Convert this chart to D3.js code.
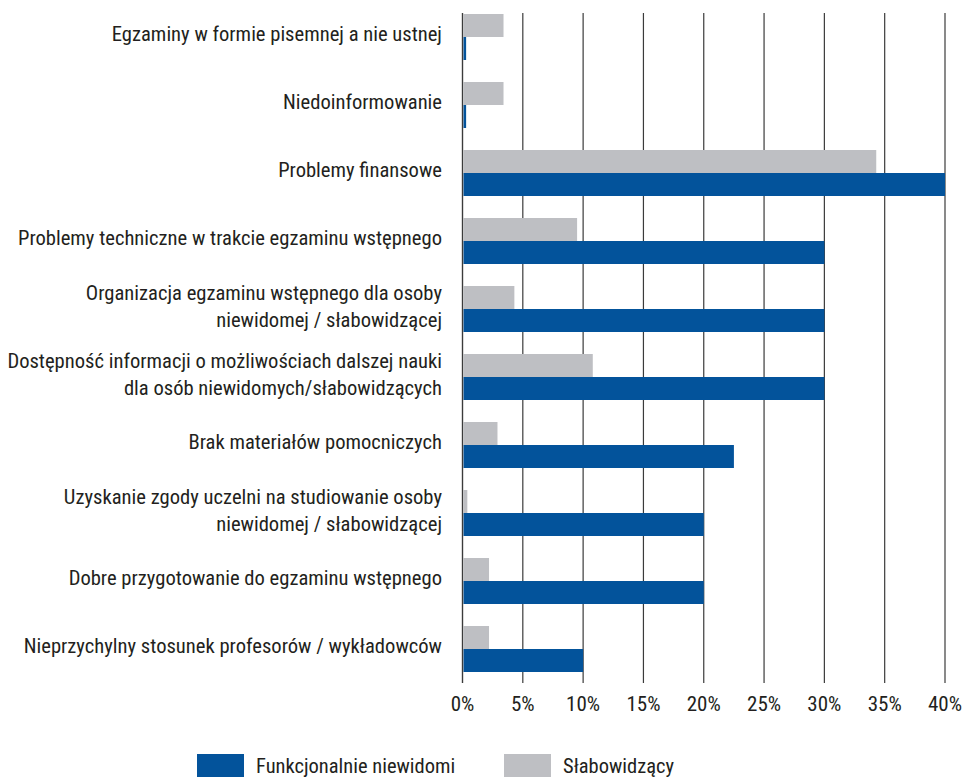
<!DOCTYPE html>
<html><head><meta charset="utf-8">
<script src="https://cdn.jsdelivr.net/npm/d3@7"></script>
<style>
body{margin:0;background:#fff;}
text{font-family:"Liberation Sans Narrow","Roboto Condensed","DejaVu Sans Condensed",sans-serif;fill:#231f20;}
</style></head>
<body>
<svg id="chart" width="969" height="779"></svg>
<script>
const categories = [
  ["Egzaminy w formie pisemnej a nie ustnej"],
  ["Niedoinformowanie"],
  ["Problemy finansowe"],
  ["Problemy techniczne w trakcie egzaminu wstępnego"],
  ["Organizacja egzaminu wstępnego dla osoby", "niewidomej / słabowidzącej"],
  ["Dostępność informacji o możliwościach dalszej nauki", "dla osób niewidomych/słabowidzących"],
  ["Brak materiałów pomocniczych"],
  ["Uzyskanie zgody uczelni na studiowanie osoby", "niewidomej / słabowidzącej"],
  ["Dobre przygotowanie do egzaminu wstępnego"],
  ["Nieprzychylny stosunek profesorów / wykładowców"]
];
const seriesNames = ["Słabowidzący", "Funkcjonalnie niewidomi"];
const slabowidzacy = [3.4, 3.4, 34.3, 9.5, 4.3, 10.8, 2.9, 0.4, 2.2, 2.2];
const niewidomi = [0.3, 0.3, 40, 30, 30, 30, 22.5, 20, 20, 10];
const xTicks = [0, 5, 10, 15, 20, 25, 30, 35, 40];
const legendOrder = ["Funkcjonalnie niewidomi", "Słabowidzący"];

const colors = {"Słabowidzący": "#bebfc3", "Funkcjonalnie niewidomi": "#03539b"};
const svg = d3.select("#chart");
const x = d3.scaleLinear().domain([0, 40]).range([462.5, 945]);
const idx = d3.range(categories.length);
const y = d3.scaleBand().domain(idx).range([3, 683]).paddingInner(22/68).paddingOuter(11/68);
const ySub = d3.scaleBand().domain(seriesNames).range([0, y.bandwidth()]);
const seriesVals = {"Słabowidzący": slabowidzacy, "Funkcjonalnie niewidomi": niewidomi};

// gridlines
svg.append("g").selectAll("line").data(xTicks).join("line")
  .attr("x1", d => x(d)).attr("x2", d => x(d))
  .attr("y1", 13).attr("y2", 683)
  .attr("stroke", "#3b3b3b").attr("stroke-width", 1.2);

// bars
seriesNames.forEach(s => {
  svg.append("g").selectAll("rect").data(idx).join("rect")
    .attr("x", x(0) + 1)
    .attr("y", i => y(i) + ySub(s))
    .attr("width", i => Math.max(0, x(seriesVals[s][i]) - x(0) - 1))
    .attr("height", ySub.bandwidth())
    .attr("fill", colors[s]);
});

// zero line
svg.append("line").attr("x1", x(0)).attr("x2", x(0)).attr("y1", 13).attr("y2", 683)
  .attr("stroke", "#3b3b3b").attr("stroke-width", 1.2);

// x tick labels
svg.append("g").selectAll("text").data(xTicks).join("text")
  .attr("x", d => x(d)).attr("y", 711)
  .attr("text-anchor", "middle").attr("font-size", 21)
  .text(d => d + "%");

// category labels
const lab = svg.append("g");
idx.forEach(i => {
  const lines = categories[i];
  const cy = y(i) + y.bandwidth() / 2 - 3;
  const lh = 27;
  const t = lab.append("text").attr("text-anchor", "end").attr("font-size", 20.6);
  lines.forEach((ln, k) => {
    t.append("tspan").attr("x", 442)
      .attr("y", cy + (k - (lines.length - 1) / 2) * lh)
      .attr("dy", "0.35em").text(ln);
  });
});

// legend
const lg = svg.append("g");
const legX = [197, 504];
legendOrder.forEach((s, k) => {
  lg.append("rect").attr("x", legX[k]).attr("y", 754).attr("width", 47).attr("height", 23).attr("fill", colors[s]);
  lg.append("text").attr("x", legX[k] + 59).attr("y", 766).attr("dy", "0.35em")
    .attr("font-size", 20.5).text(s);
});
</script>
</body></html>
